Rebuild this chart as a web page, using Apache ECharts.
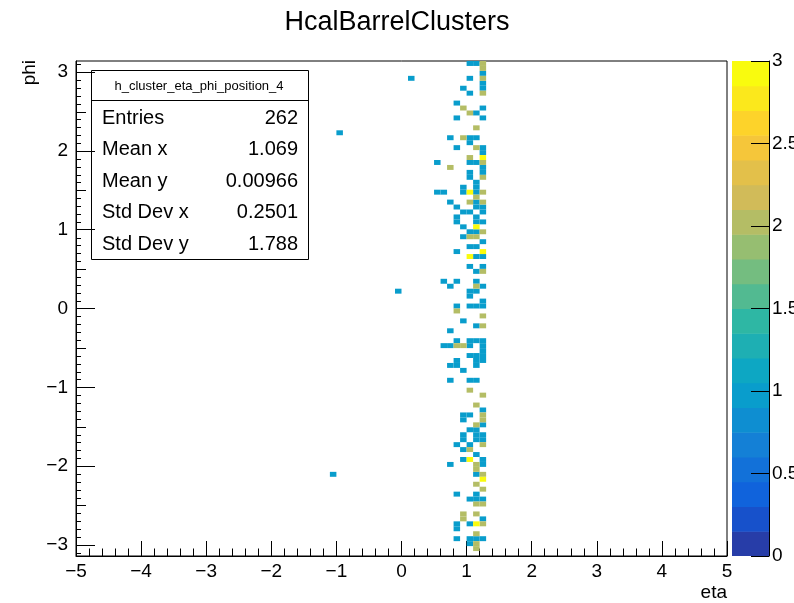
<!DOCTYPE html>
<html>
<head>
<meta charset="utf-8">
<script src="https://cdn.jsdelivr.net/npm/echarts@6/dist/echarts.min.js"></script>
<style>
html,body{margin:0;padding:0;background:#fff}
#chart{width:794px;height:603px}
</style>
</head>
<body>
<div id="chart"></div>
<script>
const FONT = '"Liberation Sans", Arial, Helvetica, sans-serif';

// Histogram binning
const ETA_MIN = -5, ETA_MAX = 5, ETA_BIN = 0.1;
const PHI_BINS = 100;
const Z_MAX = 3;
const N_CONTOURS = 20;

const xTicks = [-5, -4, -3, -2, -1, 0, 1, 2, 3, 4, 5];
const yTicks = [-3, -2, -1, 0, 1, 2, 3];
const zTicks = [0, 0.5, 1, 1.5, 2, 2.5, 3];

// Filled cells: [eta bin low edge, phi bin index (0 = lowest phi bin)]
const ones = [
  [1.0,99],[1.1,99],[1.2,97],[1.0,96],[0.1,96],[1.2,95],[0.9,94],[1.2,94],[1.0,93],
  [0.8,91],[1.2,90],[1.1,89],[0.8,88],[1.2,88],[-1.0,85],[0.7,84],[1.0,84],[1.1,84],
  [1.0,83],[0.8,82],[1.2,82],[1.2,81],[0.5,79],[1.0,79],[1.1,79],[1.2,78],[1.0,77],
  [1.2,77],[1.0,76],[1.1,75],[0.9,74],[1.1,74],[0.5,73],[0.6,73],[0.9,73],[1.1,73],
  [0.7,71],[1.1,71],[0.8,70],[1.1,70],[1.2,70],[0.9,69],[1.0,69],[1.2,69],[0.8,68],
  [1.1,68],[0.8,67],[1.1,67],[1.2,67],[0.9,66],[1.0,65],[1.1,65],[0.9,64],[1.2,63],
  [1.0,62],[1.1,62],[0.8,61],[1.1,60],[1.2,60],[1.0,58],[1.2,58],[1.1,57],[0.6,55],
  [0.8,55],[1.1,55],[0.7,54],[1.2,54],[1.0,53],[1.1,53],[-0.1,53],[1.0,52],[1.2,51],
  [0.8,50],[1.0,50],[1.1,50],[1.2,50],[0.9,47],[1.1,46],[0.7,45],[0.8,43],[1.0,43],
  [1.1,43],[1.2,43],[0.6,42],[0.7,42],[1.0,42],[1.2,42],[1.2,41],[1.0,40],[1.1,40],
  [1.2,40],[0.8,39],[1.1,39],[1.2,39],[0.7,38],[0.8,38],[1.1,38],[0.9,37],[0.7,35],
  [1.0,35],[1.1,35],[1.2,29],[0.9,28],[1.0,28],[0.9,27],[1.2,26],[1.0,25],[1.1,25],
  [0.9,24],[1.1,24],[1.2,24],[0.9,23],[1.1,23],[1.2,23],[0.8,22],[1.0,22],[0.9,21],
  [1.1,20],[0.9,19],[1.2,19],[0.7,18],[1.2,18],[1.1,16],[-1.1,16],[0.8,12],[1.1,12],
  [1.0,11],[1.1,11],[1.2,11],[1.2,7],[0.8,6],[1.0,6],[0.8,5],[0.8,3],[1.0,3],[1.1,3],
  [1.2,3],[1.0,2]
];
const twos = [
  [1.2,99],[1.2,98],[1.2,96],[1.2,93],[0.9,90],[1.0,89],[1.1,86],[0.9,84],[1.1,82],
  [1.0,80],[1.2,79],[0.7,78],[1.2,76],[1.2,73],[1.1,72],[1.0,71],[1.2,71],[1.2,65],
  [1.0,64],[1.1,64],[1.2,57],[1.1,54],[0.8,49],[1.2,48],[1.2,46],[0.8,42],[0.9,42],
  [1.0,33],[1.2,32],[1.1,30],[1.2,28],[1.2,27],[1.1,26],[1.2,22],[1.0,21],[1.1,18],
  [1.1,17],[1.2,16],[1.1,14],[1.2,13],[1.1,10],[1.2,10],[0.9,8],[1.1,8],[0.9,7],
  [1.2,6],[1.1,4],[1.1,2],[1.1,1]
];
const threes = [
  [1.2,80],[1.0,73],[1.1,66],[1.2,61],[1.0,60],[1.0,19],[1.2,15],[1.1,6]
];

const statsTitle = 'h_cluster_eta_phi_position_4';
const statNames = ['Entries', 'Mean x', 'Mean y', 'Std Dev x', 'Std Dev y'];
const statValues = ['262', '1.069', '0.00966', '0.2501', '1.788'];

// kBird colour palette
const birdR = [0.2082, 0.0592, 0.0780, 0.0232, 0.1802, 0.5301, 0.8186, 0.9956, 0.9764];
const birdG = [0.1664, 0.3599, 0.5041, 0.6419, 0.7178, 0.7492, 0.7328, 0.7862, 0.9832];
const birdB = [0.5293, 0.8684, 0.8385, 0.7914, 0.6425, 0.4662, 0.3499, 0.1968, 0.0539];
function bird(t) {
  const s = t * (birdR.length - 1);
  const i = Math.min(Math.floor(s), birdR.length - 2);
  const f = s - i;
  const c = a => Math.round(255 * (a[i] + (a[i + 1] - a[i]) * f));
  return 'rgb(' + c(birdR) + ',' + c(birdG) + ',' + c(birdB) + ')';
}
function bandColor(band) {
  const idx = Math.floor((band + 0.99) * 255 / N_CONTOURS);
  return bird(idx / 254);
}
function zColor(z) {
  let band = Math.floor(0.01 + z / Z_MAX * N_CONTOURS);
  if (band > N_CONTOURS - 1) band = N_CONTOURS - 1;
  return bandColor(band);
}

const dPhi = 2 * Math.PI / PHI_BINS;
const cells = [];
[[ones, 1], [twos, 2], [threes, 3]].forEach(([list, n]) => {
  list.forEach(([eta, k]) => cells.push([eta, -Math.PI + k * dPhi, n]));
});

const bands = [];
for (let b = 0; b < N_CONTOURS; b++) bands.push([b * Z_MAX / N_CONTOURS, (b + 1) * Z_MAX / N_CONTOURS, b]);

const minus = v => String(v).replace('-', '\u2212');

// secondary phi ticks: [phi, tick length]
const ySubTicks = [];
for (let i = -31; i <= 31; i++) {
  if (i % 10 === 0) continue;
  ySubTicks.push([i / 10, i % 5 === 0 ? 10 : 5]);
}

const chart = echarts.init(document.getElementById('chart'), null, {renderer: 'canvas'});

const baseLabel = {fontFamily: FONT, fontSize: 19, color: '#000'};

chart.setOption({
  animation: false,
  backgroundColor: '#fff',
  grid: [
    {left: 76, right: 67, top: 61, bottom: 47, show: true, borderColor: '#000', borderWidth: 1,
     backgroundColor: 'transparent', containLabel: false, outerBoundsMode: 'none'},
    {left: 732, width: 37, top: 61, bottom: 47, show: false, containLabel: false, outerBoundsMode: 'none'}
  ],
  xAxis: [
    {gridIndex: 0, type: 'value', min: ETA_MIN, max: ETA_MAX, interval: 1,
     axisLine: {show: true, onZero: false, lineStyle: {color: '#000', width: 1}},
     axisTick: {show: true, inside: true, length: 15, lineStyle: {color: '#000'}},
     minorTick: {show: true, splitNumber: 5, length: 7.5, lineStyle: {color: '#000'}},
     axisLabel: Object.assign({margin: 6, formatter: minus, showMinLabel: true, showMaxLabel: true}, baseLabel),
     splitLine: {show: false}},
    {gridIndex: 1, type: 'value', min: 0, max: 1, show: false}
  ],
  yAxis: [
    {gridIndex: 0, type: 'value', min: -Math.PI, max: Math.PI, position: 'left',
     axisLine: {show: true, onZero: false, lineStyle: {color: '#000', width: 1}},
     axisTick: {show: true, inside: true, length: 19, customValues: yTicks, lineStyle: {color: '#000'}},
     axisLabel: Object.assign({margin: 8, customValues: yTicks, formatter: minus}, baseLabel),
     splitLine: {show: false}},
    {gridIndex: 1, type: 'value', min: 0, max: Z_MAX, position: 'right', z: 10,
     axisLine: {show: true, onZero: false, lineStyle: {color: '#000', width: 1}},
     axisTick: {show: true, inside: true, length: 18, customValues: zTicks, lineStyle: {color: '#000'}},
     axisLabel: Object.assign({margin: 3, customValues: zTicks}, baseLabel),
     splitLine: {show: false}}
  ],
  series: [
    {
      type: 'custom', xAxisIndex: 0, yAxisIndex: 0, clip: true, z: 2,
      data: cells,
      encode: {x: 0, y: 1},
      renderItem: (params, api) => {
        const eta = api.value(0), phi = api.value(1), n = api.value(2);
        const p0 = api.coord([eta, phi]);
        const p1 = api.coord([eta + ETA_BIN, phi + dPhi]);
        return {
          type: 'rect',
          shape: {x: p0[0], y: p1[1], width: p1[0] - p0[0], height: p0[1] - p1[1]},
          style: {fill: zColor(n), stroke: null}
        };
      }
    },
    {
      type: 'custom', xAxisIndex: 0, yAxisIndex: 0, clip: false, z: 3,
      data: ySubTicks,
      encode: {y: 0},
      renderItem: (params, api) => {
        const p = api.coord([ETA_MIN, api.value(0)]);
        const len = api.value(1);
        const y = Math.round(p[1]) + 0.5;
        return {
          type: 'line',
          shape: {x1: p[0], y1: y, x2: p[0] + len, y2: y},
          style: {stroke: '#000', lineWidth: 1}
        };
      }
    },
    {
      type: 'custom', xAxisIndex: 1, yAxisIndex: 1, clip: true, z: 1,
      data: bands,
      encode: {y: [0, 1]},
      renderItem: (params, api) => {
        const lo = api.value(0), hi = api.value(1), b = api.value(2);
        const p0 = api.coord([0, lo]);
        const p1 = api.coord([1, hi]);
        return {
          type: 'rect',
          shape: {x: p0[0], y: p1[1], width: p1[0] - p0[0], height: p0[1] - p1[1] + 0.5},
          style: {fill: bandColor(b), stroke: null}
        };
      }
    }
  ],
  graphic: [
    {type: 'text', left: 'center', top: 9, z: 10,
     style: {text: 'HcalBarrelClusters', font: '27px ' + FONT, fill: '#000'}},
    {type: 'text', x: 727, y: 593, z: 10,
     style: {text: 'eta', font: '19px ' + FONT, fill: '#000', align: 'right', verticalAlign: 'middle'}},
    {type: 'text', x: 30, y: 60, rotation: Math.PI / 2, z: 10,
     style: {text: 'phi', font: '19px ' + FONT, fill: '#000', align: 'right', verticalAlign: 'middle'}},
    {type: 'group', z: 20, children: [
      {type: 'rect', shape: {x: 91.5, y: 70.5, width: 217, height: 189},
       style: {fill: '#fff', stroke: '#000', lineWidth: 1}},
      {type: 'line', shape: {x1: 91.5, y1: 100.5, x2: 308.5, y2: 100.5},
       style: {stroke: '#000', lineWidth: 1}},
      {type: 'text', x: 199, y: 86,
       style: {text: statsTitle, font: '13px ' + FONT, fill: '#000', align: 'center', verticalAlign: 'middle'}}
    ].concat(statNames.map((name, i) => ({
      type: 'text', x: 102, y: 118 + i * 31.5,
      style: {text: name, font: '20px ' + FONT, fill: '#000', align: 'left', verticalAlign: 'middle'}
    }))).concat(statValues.map((val, i) => ({
      type: 'text', x: 298, y: 118 + i * 31.5,
      style: {text: val, font: '20px ' + FONT, fill: '#000', align: 'right', verticalAlign: 'middle'}
    })))}
  ]
});
</script>
</body>
</html>
